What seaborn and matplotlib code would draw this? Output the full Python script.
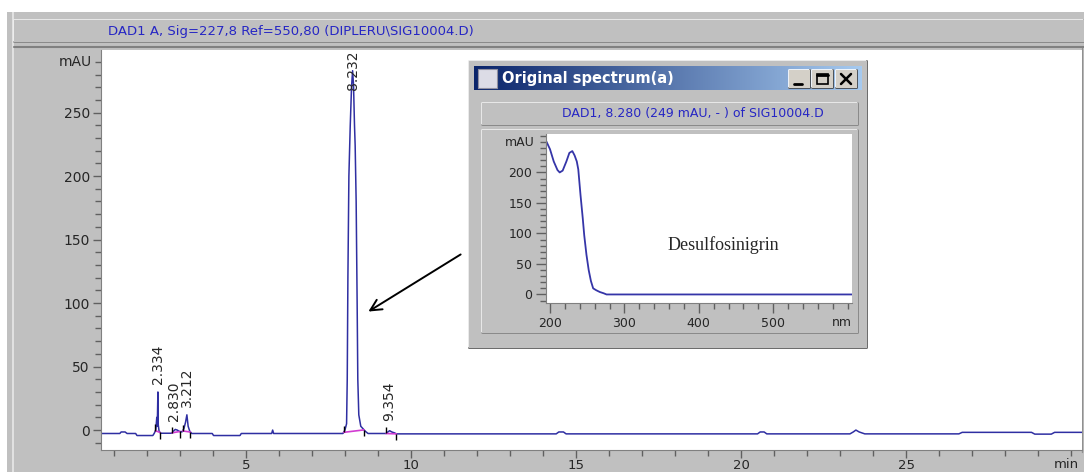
import numpy as np
import pandas as pd
import matplotlib
matplotlib.use("Agg")
import matplotlib.pyplot as plt
from matplotlib.lines import Line2D
from matplotlib.patches import Rectangle, FancyArrowPatch
from matplotlib.colors import LinearSegmentedColormap
from matplotlib.ticker import MultipleLocator
import seaborn as sns

# chromatogram trace, DAD1 A (min, mAU)
time_min = [0.61, 1.18, 1.22, 1.34, 1.40, 1.66, 1.70, 2.18, 2.22, 2.27, 2.30, 2.315,
            2.334, 2.345, 2.37, 2.42, 2.75, 2.80, 2.86, 2.92, 2.98, 3.06, 3.12, 3.17,
            3.212, 3.25, 3.30, 3.36, 3.98, 4.02, 4.82, 4.86, 5.78, 5.81, 5.84, 7.94,
            8.00, 8.05, 8.07, 8.09, 8.12, 8.16, 8.20, 8.232, 8.26, 8.29, 8.31, 8.34,
            8.37, 8.39, 8.42, 8.48, 8.55, 8.62, 8.70, 9.25, 9.30, 9.354, 9.42, 9.50,
            9.56, 14.40, 14.48, 14.62, 14.70, 20.50, 20.58, 20.70, 20.78, 23.30, 23.40,
            23.48, 23.58, 23.75, 26.60, 26.70, 28.80, 28.90, 29.40, 29.50, 30.33]
signal_mau = [-2.7, -2.7, -1.5, -1.5, -2.7, -2.7, -4.3, -4.3, -2.7, 0, 10, 3,
              30, 4, -1, -2.5, -2.5, -1, 0.5, 0, -1, -1.5, 1, 6,
              12, 3, -1, -2.7, -2.7, -4.3, -4.3, -2.7, -2.7, 0, -2.7, -2.7,
              0, 5, 40, 120, 200, 239, 270, 283, 272, 240, 224, 180,
              100, 40, 12, 3, 1, -1, -2.7, -2.7, -1.5, -0.5, -1.5, -2.2,
              -3.0, -3.0, -1.5, -1.5, -3.0, -3.0, -1.5, -1.5, -3.0, -3.0, -1.5,
              0, -1.5, -3.0, -3.0, -1.8, -1.8, -3.2, -3.2, -1.8, -1.8]

peak_rt = [2.334, 2.830, 3.212, 8.232, 9.354]
peak_labels = ["2.334", "2.830", "3.212", "8.232", "9.354"]
integ_start = [2.26, 2.76, 3.08, 7.96, 9.25]
integ_end = [2.40, 3.00, 3.32, 8.58, 9.56]

# UV spectrum at 8.280 min (nm, mAU)
spec_nm = [195, 200, 205, 210, 213, 217, 222, 226, 230, 233, 236, 238, 241, 244,
           246, 249, 252, 255, 258, 262, 267, 272, 276, 300, 400, 500, 606]
spec_mau = [251, 238, 218, 204, 200, 203, 218, 232, 235, 228, 218, 205, 163, 125,
            97, 65, 40, 22, 10, 7, 4, 2, 0, 0, 0, 0, 0]

W, H = 1084, 472
GRAY = "#c0c0c0"
NAVY = "#2f2fa2"
BLUE_TXT = "#2626c4"

sns.set_style("ticks")
plt.rcParams["font.family"] = ["DejaVu Sans"]

fig = plt.figure(figsize=(W / 100, H / 100), dpi=100, facecolor=GRAY)


def fx(x):
    return x / W


def fy(y):
    return 1 - y / H


def box(x0, y0, x1, y1, face, edge="none", lw=0, z=1):
    fig.patches.append(Rectangle((fx(x0), fy(y1)), (x1 - x0) / W, (y1 - y0) / H,
                                 transform=fig.transFigure, facecolor=face,
                                 edgecolor=edge, lw=lw, zorder=z))


def line(xs, ys, color, lw=1, z=1):
    fig.add_artist(Line2D([fx(v) for v in xs], [fy(v) for v in ys],
                          transform=fig.transFigure, color=color, lw=lw, zorder=z))


def bevel(x0, y0, x1, y1, face=GRAY, light="#f0f0f0", dark="#808080", z=1):
    box(x0, y0, x1, y1, face, z=z)
    line([x0, x0, x1], [y1, y0, y0], light, 1.2, z)
    line([x0, x1, x1], [y1, y1, y0], dark, 1.2, z)


# white margins and main title bar
box(0, 0, W, 12, "white", z=0)
box(0, 0, 7, H, "white", z=0)
line([13, 13], [12, H], "#e8e8e8", 1.2, 0)
bevel(14, 20, W, 42, z=0)
line([14, W], [47, 47], "#808080", 1.5, 0)
line([1082, 1082], [48, 452], "#909090", 1, 0)
fig.text(fx(108), fy(31), "DAD1 A, Sig=227,8 Ref=550,80 (DIPLERU\\SIG10004.D)",
         color=BLUE_TXT, fontsize=9.5, ha="left", va="center")

# main chromatogram
ax = fig.add_axes([fx(101), fy(450), (1082 - 101) / W, (450 - 50) / H], zorder=0)
ax.set_facecolor("white")
chrom = pd.DataFrame({"time": time_min, "mAU": signal_mau})
sns.lineplot(data=chrom, x="time", y="mAU", ax=ax, color=NAVY, lw=1.1)

t_arr = np.array(time_min)
s_arr = np.array(signal_mau)
for t0, t1 in zip(integ_start, integ_end):
    y0, y1 = np.interp(t0, t_arr, s_arr), np.interp(t1, t_arr, s_arr)
    ax.plot([t0, t1], [y0, y1], color="#d23cd2", lw=1.2, zorder=3)
    ax.vlines(t0, y0, y0 + 5, color="black", lw=1, zorder=4)
    ax.vlines(t1, y1 - 5, y1, color="black", lw=1, zorder=4)

for rt, lab in zip(peak_rt, peak_labels):
    h = np.interp(rt, t_arr, s_arr)
    ax.text(rt, min(max(h, 1) + 6, 268), lab, rotation=90, ha="center",
            va="bottom", fontsize=10)

ax.set_xlim(0.61, 30.33)
ax.set_ylim(-15.7, 299.3)
ax.set_xticks([5, 10, 15, 20, 25])
ax.set_yticks([0, 50, 100, 150, 200, 250])
ax.xaxis.set_minor_locator(MultipleLocator(1))
ax.yaxis.set_minor_locator(MultipleLocator(10))
ax.tick_params(which="major", length=6, width=1, color="#606060", labelsize=10, pad=2)
ax.tick_params(which="minor", length=4, width=1, color="#606060")
ax.tick_params(axis="x", which="major", labelsize=9.5, pad=0.5)
ax.tick_params(axis="y", which="minor", length=4)
ax.set_xlabel("")
ax.set_ylabel("")
for side in ["top", "right"]:
    ax.spines[side].set_visible(False)
for side in ["left", "bottom"]:
    ax.spines[side].set_color("#808080")
fig.text(fx(92), fy(62), "mAU", ha="right", va="center", fontsize=10)
fig.text(fx(1066), fy(464), "min", ha="center", va="center", fontsize=9.5)

# spectrum window
bevel(469, 61, 867, 348, face=GRAY, light="#e6e6e6", dark="#505050", z=2)
line([472, 864, 864], [345, 345, 64], "#909090", 1, 2)
tb = fig.add_axes([fx(474), fy(90), (862 - 474) / W, (90 - 66) / H], zorder=3)
tb.imshow(np.linspace(0, 1, 256)[None, :], aspect="auto", extent=[0, 1, 0, 1],
          cmap=LinearSegmentedColormap.from_list("tb", ["#0a246a", "#a6caf0"]))
tb.axis("off")
box(478, 69, 497, 88, "#dcdce6", edge="#9090a0", lw=0.8, z=6)
line([481, 486, 490, 494], [79, 84, 82, 85], "#d040c0", 1, 6)
fig.text(fx(502), fy(78), "Original spectrum(a)", color="white", fontsize=10.5,
         fontweight="bold", ha="left", va="center", zorder=6)
for bx in [789, 812, 836]:
    bevel(bx, 70, bx + 21, 88, face="#d4d0c8", light="white", dark="#404040", z=6)
line([794, 802], [84, 84], "black", 2, 7)
box(817, 74, 828, 84, "none", edge="black", lw=1.2, z=7)
line([817, 828], [75, 75], "black", 2, 7)
line([841, 851], [74, 84], "black", 1.8, 7)
line([841, 851], [84, 74], "black", 1.8, 7)

bevel(482, 103, 858, 125, face=GRAY, light="#f0f0f0", dark="#808080", z=4)
fig.text(fx(693), fy(114), "DAD1, 8.280 (249 mAU, - ) of SIG10004.D",
         color=BLUE_TXT, fontsize=9, ha="center", va="center", zorder=6)
bevel(482, 130, 858, 333, face=GRAY, light="#f0f0f0", dark="#808080", z=4)

ax2 = fig.add_axes([fx(546), fy(303), (852 - 546) / W, (303 - 134) / H], zorder=5)
ax2.set_facecolor("white")
spec = pd.DataFrame({"nm": spec_nm, "mAU": spec_mau})
sns.lineplot(data=spec, x="nm", y="mAU", ax=ax2, color="#3535a8", lw=1.3)
ax2.set_xlim(194.6, 606)
ax2.set_ylim(-14, 263)
ax2.set_xticks([200, 300, 400, 500])
ax2.set_yticks([0, 50, 100, 150, 200])
ax2.xaxis.set_minor_locator(MultipleLocator(20))
ax2.yaxis.set_minor_locator(MultipleLocator(10))
ax2.tick_params(which="major", length=7, width=1, color="#606060", labelsize=9, pad=3)
ax2.tick_params(which="minor", length=4, width=1, color="#606060")
ax2.set_xlabel("")
ax2.set_ylabel("")
for side in ["top", "right"]:
    ax2.spines[side].set_visible(False)
for side in ["left", "bottom"]:
    ax2.spines[side].set_color("#808080")
ax2.text(0.58, 0.34, "Desulfosinigrin", transform=ax2.transAxes, ha="center",
         va="center", fontsize=13, family="Liberation Serif")
fig.text(fx(535), fy(142), "mAU", ha="right", va="center", fontsize=9, zorder=6)
fig.text(fx(842), fy(322), "nm", ha="center", va="center", fontsize=9, zorder=6)

# arrow from the spectrum window to the main peak
fig.add_artist(FancyArrowPatch((fx(463), fy(253)), (fx(366), fy(313)),
                               transform=fig.transFigure, arrowstyle="->",
                               mutation_scale=20, lw=1.4, color="black", zorder=4))

fig.savefig("out.png", dpi=100, facecolor=GRAY)
